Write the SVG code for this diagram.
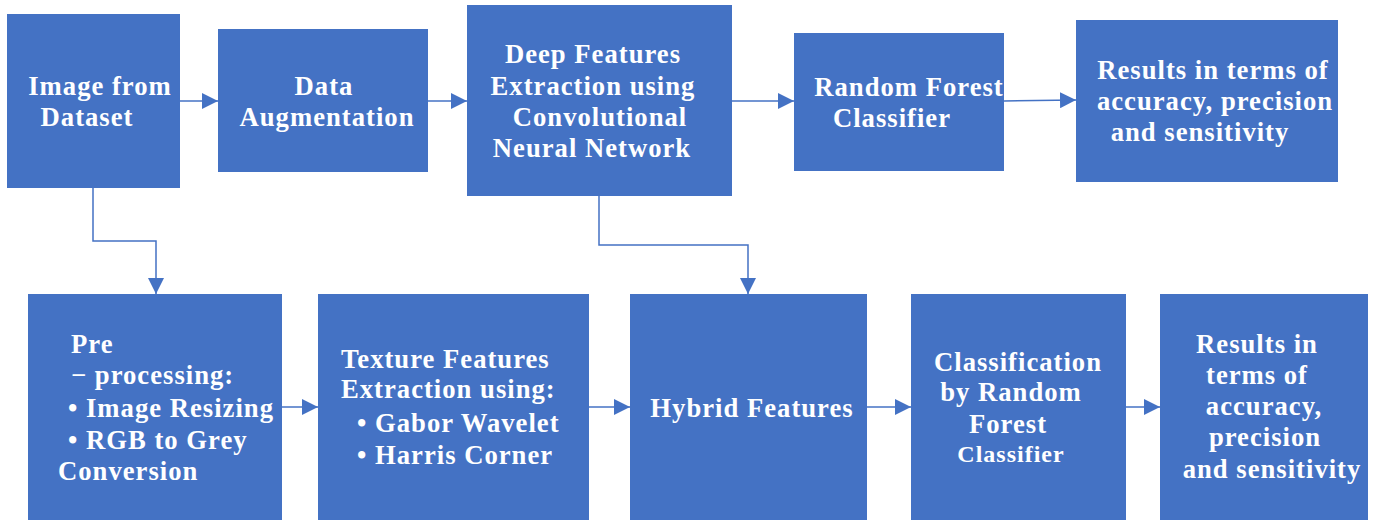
<svg xmlns="http://www.w3.org/2000/svg" width="1377" height="520" viewBox="0 0 1377 520">
  <defs>
    <marker id="arrow" viewBox="0 0 16 16" refX="16" refY="8" markerWidth="16" markerHeight="16" markerUnits="userSpaceOnUse" orient="auto">
      <path d="M0,0 L16,8 L0,16 Z" fill="#4472C4"/>
    </marker>
  </defs>
  <style>
    .box { fill: #4472C4; }
    .lbl { fill: #FFFFFF; font-family: "Liberation Serif", "Times New Roman", serif; font-weight: bold; font-size: 26.67px; letter-spacing: 1px; }
    .c { text-anchor: middle; }
    .s { font-size: 24px; }
    .link { fill: none; stroke: #4472C4; stroke-width: 1.5; marker-end: url(#arrow); }
  </style>

  <rect width="1377" height="520" fill="#FFFFFF"/>

  <!-- connectors -->
  <g id="connectors">
    <path class="link" d="M180,101 L218,101"/>
    <path class="link" d="M428,101 L467,101"/>
    <path class="link" d="M732,101 L794,101"/>
    <path class="link" d="M1004,101 L1076,100"/>
    <path class="link" d="M93,188 L93,241 L156,241 L156,294"/>
    <path class="link" d="M599,196 L599,245 L748,245 L748,294"/>
    <path class="link" d="M282,407 L318,407"/>
    <path class="link" d="M589,407 L630,407"/>
    <path class="link" d="M867,407 L911,407"/>
    <path class="link" d="M1126,407 L1160,407"/>
  </g>

  <!-- top row -->
  <g id="image-from-dataset">
    <rect class="box" x="7" y="14" width="173" height="174"/>
    <text class="lbl c" x="100" y="95">Image from</text>
    <text class="lbl c" x="87" y="126">Dataset</text>
  </g>

  <g id="data-augmentation">
    <rect class="box" x="218" y="29" width="210" height="143"/>
    <text class="lbl c" x="324" y="95">Data</text>
    <text class="lbl c" x="327" y="126">Augmentation</text>
  </g>

  <g id="deep-features">
    <rect class="box" x="467" y="5" width="265" height="191"/>
    <text class="lbl c" x="593" y="63">Deep Features</text>
    <text class="lbl c" x="593" y="95">Extraction using</text>
    <text class="lbl c" x="600" y="126">Convolutional</text>
    <text class="lbl c" x="592" y="157">Neural Network</text>
  </g>

  <g id="random-forest">
    <rect class="box" x="794" y="33" width="210" height="138"/>
    <text class="lbl c" x="909" y="96">Random Forest</text>
    <text class="lbl c" x="892" y="127">Classifier</text>
  </g>

  <g id="results-top">
    <rect class="box" x="1076" y="20" width="262" height="162"/>
    <text class="lbl c" x="1213" y="79">Results in terms of</text>
    <text class="lbl c" x="1215" y="110">accuracy, precision</text>
    <text class="lbl c" x="1200" y="141">and sensitivity</text>
  </g>

  <!-- bottom row -->
  <g id="pre-processing">
    <rect class="box" x="28" y="294" width="254" height="226"/>
    <text class="lbl" x="71" y="353">Pre</text>
    <text class="lbl" x="71" y="384">− processing:</text>
    <text class="lbl" x="68" y="417">• Image Resizing</text>
    <text class="lbl" x="68" y="449">• RGB to Grey</text>
    <text class="lbl" x="58" y="480">Conversion</text>
  </g>

  <g id="texture-features">
    <rect class="box" x="318" y="294" width="271" height="226"/>
    <text class="lbl" x="341" y="368">Texture Features</text>
    <text class="lbl" x="341" y="398">Extraction using:</text>
    <text class="lbl" x="357" y="432">• Gabor Wavelet</text>
    <text class="lbl" x="357" y="464">• Harris Corner</text>
  </g>

  <g id="hybrid-features">
    <rect class="box" x="630" y="294" width="237" height="226"/>
    <text class="lbl c" x="752" y="417">Hybrid Features</text>
  </g>

  <g id="classification">
    <rect class="box" x="911" y="294" width="215" height="226"/>
    <text class="lbl c" x="1018" y="371">Classification</text>
    <text class="lbl c" x="1011" y="401">by Random</text>
    <text class="lbl c" x="1008" y="433">Forest</text>
    <text class="lbl c s" x="1011" y="462">Classifier</text>
  </g>

  <g id="results-bottom">
    <rect class="box" x="1160" y="294" width="208" height="226"/>
    <text class="lbl c" x="1257" y="353">Results in</text>
    <text class="lbl c" x="1257" y="384">terms of</text>
    <text class="lbl c" x="1264" y="415">accuracy,</text>
    <text class="lbl c" x="1265" y="446">precision</text>
    <text class="lbl c" x="1272" y="478">and sensitivity</text>
  </g>
</svg>
